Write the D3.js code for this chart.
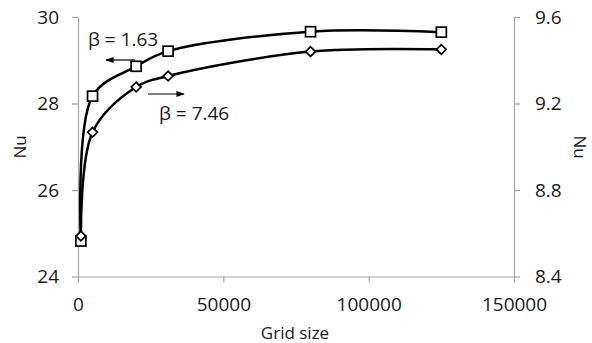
<!DOCTYPE html>
<html>
<head>
<meta charset="utf-8">
<script src="https://cdn.jsdelivr.net/npm/d3@7"></script>
<style>
  body { margin: 0; background: #fff; }
  text { font-family: "Open Sans", sans-serif; fill: #1a1a1a; }
</style>
</head>
<body>
<div id="chart"></div>
<script>
// grid sizes and Nu values
var grid = [1000, 5000, 20000, 31000, 80000, 125000];
var nuLeft = [24.82, 28.17, 28.86, 29.21, 29.66, 29.65];   // beta = 1.63, left axis
var nuRight = [8.587, 9.067, 9.276, 9.327, 9.44, 9.45];     // beta = 7.46, right axis
var xTicks = [0, 50000, 100000, 150000];
var yLeftTicks = [24, 26, 28, 30];
var yRightTicks = [8.4, 8.8, 9.2, 9.6];

var width = 592, height = 343;
var margin = {left: 78, right: 78, top: 17, bottom: 66.5};

var svg = d3.select("#chart").append("svg")
            .attr("width", width)
            .attr("height", height);

var x = d3.scaleLinear().domain([0, 150000]).range([margin.left, width - margin.right]);
var yL = d3.scaleLinear().domain([24, 30]).range([height - margin.bottom, margin.top]);
var yR = d3.scaleLinear().domain([8.4, 9.6]).range([height - margin.bottom, margin.top]);

var axisColor = "#a6a6a6";

function styleAxis(g) {
  g.select(".domain").attr("stroke", axisColor).attr("stroke-width", 1.2);
  g.selectAll(".tick line").attr("stroke", axisColor).attr("stroke-width", 1.2);
  g.selectAll(".tick text").style("font-size", "19px").attr("fill", "#1a1a1a");
}

svg.append("g")
   .attr("transform", "translate(0," + (height - margin.bottom) + ")")
   .call(d3.axisBottom(x).tickValues(xTicks).tickFormat(d3.format("d")).tickSize(6).tickSizeOuter(0).tickPadding(15))
   .call(styleAxis);

svg.append("g")
   .attr("transform", "translate(" + margin.left + ",0)")
   .call(d3.axisLeft(yL).tickValues(yLeftTicks).tickFormat(d3.format("d")).tickSize(6).tickSizeOuter(0).tickPadding(13))
   .call(styleAxis);

svg.append("g")
   .attr("transform", "translate(" + (width - margin.right) + ",0)")
   .call(d3.axisRight(yR).tickValues(yRightTicks).tickFormat(d3.format(".1f")).tickSize(6).tickSizeOuter(0).tickPadding(15))
   .call(styleAxis);

// axis titles
svg.append("text")
   .attr("x", 295).attr("y", 339)
   .attr("text-anchor", "middle")
   .style("font-size", "17px")
   .text("Grid size");

svg.append("text")
   .attr("transform", "translate(26,147) rotate(-90)")
   .attr("text-anchor", "middle")
   .style("font-size", "17px")
   .text("Nu");

svg.append("text")
   .attr("transform", "translate(574,147) rotate(90)")
   .attr("text-anchor", "middle")
   .style("font-size", "17px")
   .text("Nu");

// smoothed lines
var lineL = d3.line()
              .x(function(d, i) { return x(grid[i]); })
              .y(function(d) { return yL(d); })
              .curve(d3.curveCatmullRom.alpha(0.5));

var lineR = d3.line()
              .x(function(d, i) { return x(grid[i]); })
              .y(function(d) { return yR(d); })
              .curve(d3.curveCatmullRom.alpha(0.5));

svg.append("path")
   .attr("d", lineL(nuLeft))
   .attr("fill", "none")
   .attr("stroke", "#000")
   .attr("stroke-width", 2.5);

svg.append("path")
   .attr("d", lineR(nuRight))
   .attr("fill", "none")
   .attr("stroke", "#000")
   .attr("stroke-width", 2.5);

// markers
svg.selectAll("rect.sq")
   .data(nuLeft)
   .enter()
   .append("rect")
   .attr("class", "sq")
   .attr("x", function(d, i) { return x(grid[i]) - 5; })
   .attr("y", function(d) { return yL(d) - 5; })
   .attr("width", 10)
   .attr("height", 10)
   .attr("fill", "#fff")
   .attr("stroke", "#000")
   .attr("stroke-width", 1.7);

svg.selectAll("path.dia")
   .data(nuRight)
   .enter()
   .append("path")
   .attr("class", "dia")
   .attr("d", d3.symbol().type(d3.symbolDiamond2).size(60))
   .attr("transform", function(d, i) { return "translate(" + x(grid[i]) + "," + yR(d) + ")"; })
   .attr("fill", "#fff")
   .attr("stroke", "#000")
   .attr("stroke-width", 1.7);

// annotations with arrows
svg.append("defs").append("marker")
   .attr("id", "arrow")
   .attr("viewBox", "0 0 10 10")
   .attr("refX", 9).attr("refY", 5)
   .attr("markerWidth", 7).attr("markerHeight", 7)
   .attr("orient", "auto")
   .append("path")
   .attr("d", "M0,1.5 L10,5 L0,8.5 Z")
   .attr("fill", "#000");

svg.append("line")
   .attr("x1", 135).attr("y1", 60).attr("x2", 106).attr("y2", 60)
   .attr("stroke", "#000").attr("stroke-width", 1.2)
   .attr("marker-end", "url(#arrow)");

svg.append("line")
   .attr("x1", 148).attr("y1", 94).attr("x2", 184).attr("y2", 94)
   .attr("stroke", "#000").attr("stroke-width", 1.2)
   .attr("marker-end", "url(#arrow)");

svg.append("text")
   .attr("x", 88).attr("y", 46)
   .style("font-size", "19px")
   .text("β = 1.63");

svg.append("text")
   .attr("x", 159).attr("y", 120)
   .style("font-size", "19px")
   .text("β = 7.46");
</script>
</body>
</html>
